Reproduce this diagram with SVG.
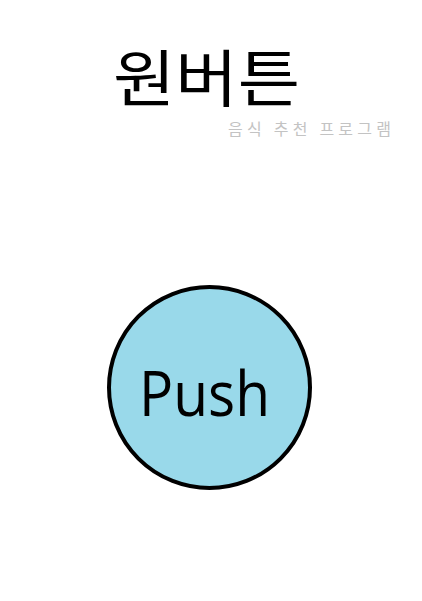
<svg xmlns="http://www.w3.org/2000/svg" width="422" height="601" viewBox="0 0 422 601">
<style>
.title{font-family:"Noto Sans CJK KR","Noto Sans",sans-serif;font-size:62px;fill:#000}
.sub{font-family:"Noto Sans CJK KR","Noto Sans",sans-serif;font-size:16px;fill:#c3c3c3}
.btn{fill:#99d9ea;stroke:#000;stroke-width:4}
.lbl{font-family:"Open Sans","Noto Sans",sans-serif;font-size:62px;fill:#000}
</style>
<rect width="422" height="601" fill="#fff"/>
<g id="title">
<text class="title" x="113" y="102" textLength="187" lengthAdjust="spacingAndGlyphs">원버튼</text>
<text class="sub" x="228" y="135" textLength="163" lengthAdjust="spacing">음식 추천 프로그램</text>
</g>
<g id="push">
<circle class="btn" cx="209.5" cy="387.5" r="100.5"/>
<text class="lbl" x="139" y="416" textLength="131" lengthAdjust="spacingAndGlyphs">Push</text>
</g>
<g id="connectors"/>
</svg>
